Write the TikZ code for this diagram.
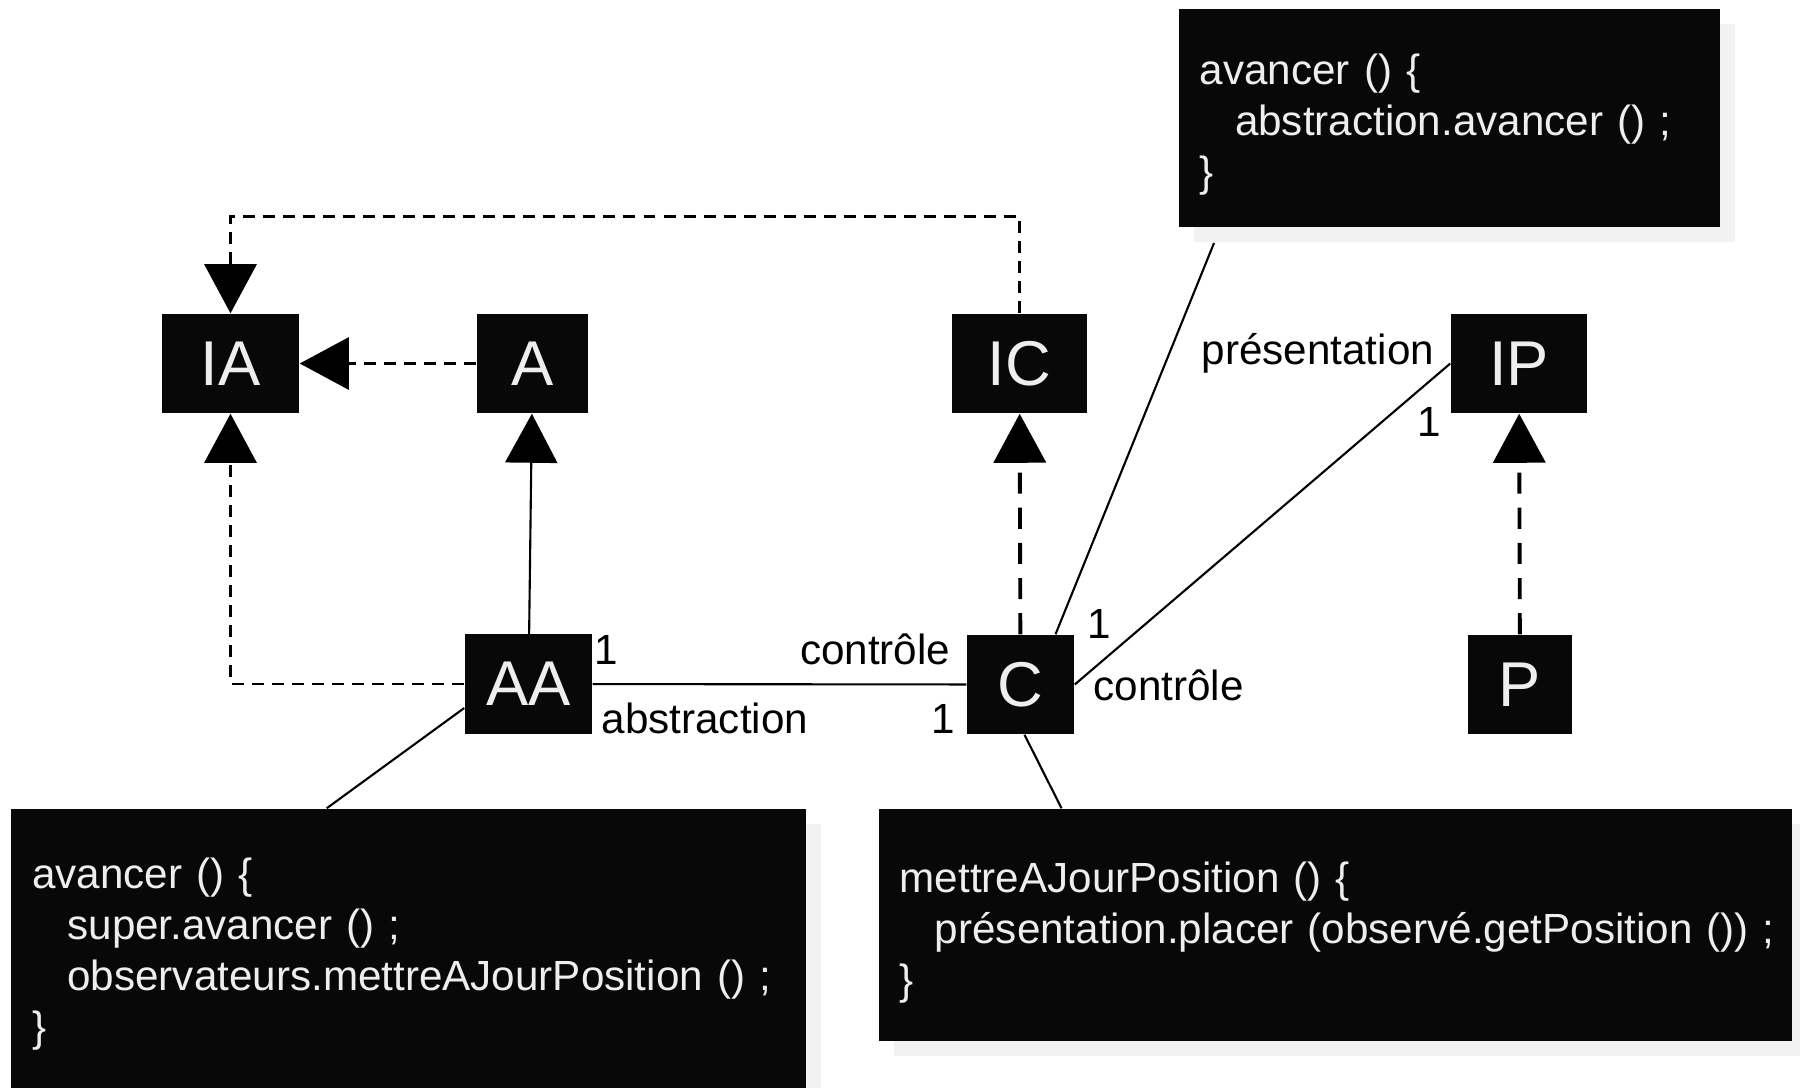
\documentclass[tikz,border=0pt]{standalone}
\usepackage{fontspec}
\setmainfont{Liberation Sans}
\usetikzlibrary{calc,positioning,arrows.meta,shadows}
\definecolor{boxfill}{HTML}{080808}
\definecolor{boxtxt}{HTML}{EEEEEE}
\definecolor{shade}{HTML}{F2F2F2}

\begin{document}
\begin{tikzpicture}[x=0.01cm, y=-0.01cm]
\tikzstyle{cls}=[fill=boxfill, text=boxtxt, minimum height=0.99cm, inner sep=0pt,
                 font=\fontsize{18}{20}\selectfont]
\tikzstyle{note}=[fill=boxfill, text=boxtxt, inner xsep=0.21cm, inner ysep=0pt, align=left,
                  font=\fontsize{12}{14.5}\selectfont,
                  drop shadow={shadow xshift=0.15cm, shadow yshift=-0.15cm, fill=shade, opacity=1}]
\tikzstyle{lbl}=[inner sep=0pt, font=\fontsize{12}{14}\selectfont]
\tikzstyle{assoc}=[line width=0.6pt]
\tikzstyle{inh}=[line width=0.6pt, -{Triangle[length=0.49cm, width=0.52cm]}]
\tikzstyle{real}=[line width=0.8pt, dash pattern=on 3.4pt off 2.3pt, -{Triangle[length=0.49cm, width=0.52cm]}]
\tikzstyle{realb}=[line width=1.1pt, dash pattern=on 6pt off 4pt, -{Triangle[length=0.49cm, width=0.52cm]}]
\path[use as bounding box, clip] (0,0) rectangle (1800,1087);
% classes
\node[cls, minimum width=1.37cm] (IA) at (230.5,363.5) {IA};
\node[cls, minimum width=1.11cm] (A) at (532.5,363.5) {A};
\node[cls, minimum width=1.35cm] (IC) at (1019.5,363.5) {IC};
\node[cls, minimum width=1.36cm] (IP) at (1519,363.5) {IP};
\node[cls, minimum width=1.27cm] (AA) at (528.5,684) {AA};
\node[cls, minimum width=1.07cm] (C) at (1020.5,684.5) {C};
\node[cls, minimum width=1.04cm] (P) at (1520,684.5) {P};
% notes
\node[note, minimum width=5.41cm, minimum height=2.18cm, text width=4.99cm] (nctl) at (1449.5,118)
  {\rule{0pt}{12.2pt}avancer () \{\\ \hspace*{10pt}abstraction.avancer () ;\\ \}};
\node[note, minimum width=7.945cm, minimum height=2.86cm, text width=7.525cm] (nabs) at (408.75,952)
  {\rule{0pt}{10pt}avancer () \{\\ \hspace*{10pt}super.avancer () ;\\ \hspace*{10pt}observateurs.mettreAJourPosition () ;\\ \}};
\node[note, minimum width=9.13cm, minimum height=2.32cm, text width=8.71cm] (npres) at (1335.5,925)
  {\rule{0pt}{13pt}mettreAJourPosition () \{\\ \hspace*{10pt}\mbox{présentation.placer (observé.getPosition ()) ;}\\ \}};
% relations
\draw[real] (A) -- (IA);
\draw[real] (AA) -| (IA);
\draw[real] (IC.north) -- ++(0,-97) -| (IA.north);
\draw[inh] (AA) -- (A);
\foreach \i/\j in {C/IC,P/IP}{\draw[realb] (\i) -- (\j);}
\draw[assoc] (AA) -- (C);
\draw[assoc] (C.east) -- (IP.west);
% note links
\coordinate (kctl) at (1214,243);
\draw[assoc] (kctl) -- ($(C.north)+(35,0)$);
\draw[assoc] ($(AA.west)+(0,24)$) -- ($(nabs.north)+(-82,0)$);
\draw[assoc] ($(C.south)+(4,0)$) -- ($(npres.north)+(-274,0)$);
% roles and multiplicities
\node[lbl, anchor=base west] (m1) at (594,664) {1};
\node[lbl, anchor=base west] (rabs) at (601,733) {abstraction};
\node[lbl, anchor=base east] (rctl1) at (951,664) {contrôle};
\node[lbl, anchor=base east] (m2) at (956,733) {1};
\node[lbl, anchor=base west] (m3) at (1087,638) {1};
\node[lbl, anchor=base west] (rctl2) at (1093,700) {contrôle};
\node[lbl, anchor=base west] (rpres) at (1201,364) {présentation};
\node[lbl, anchor=base east] (m4) at (1442,436) {1};
\end{tikzpicture}
\end{document}
